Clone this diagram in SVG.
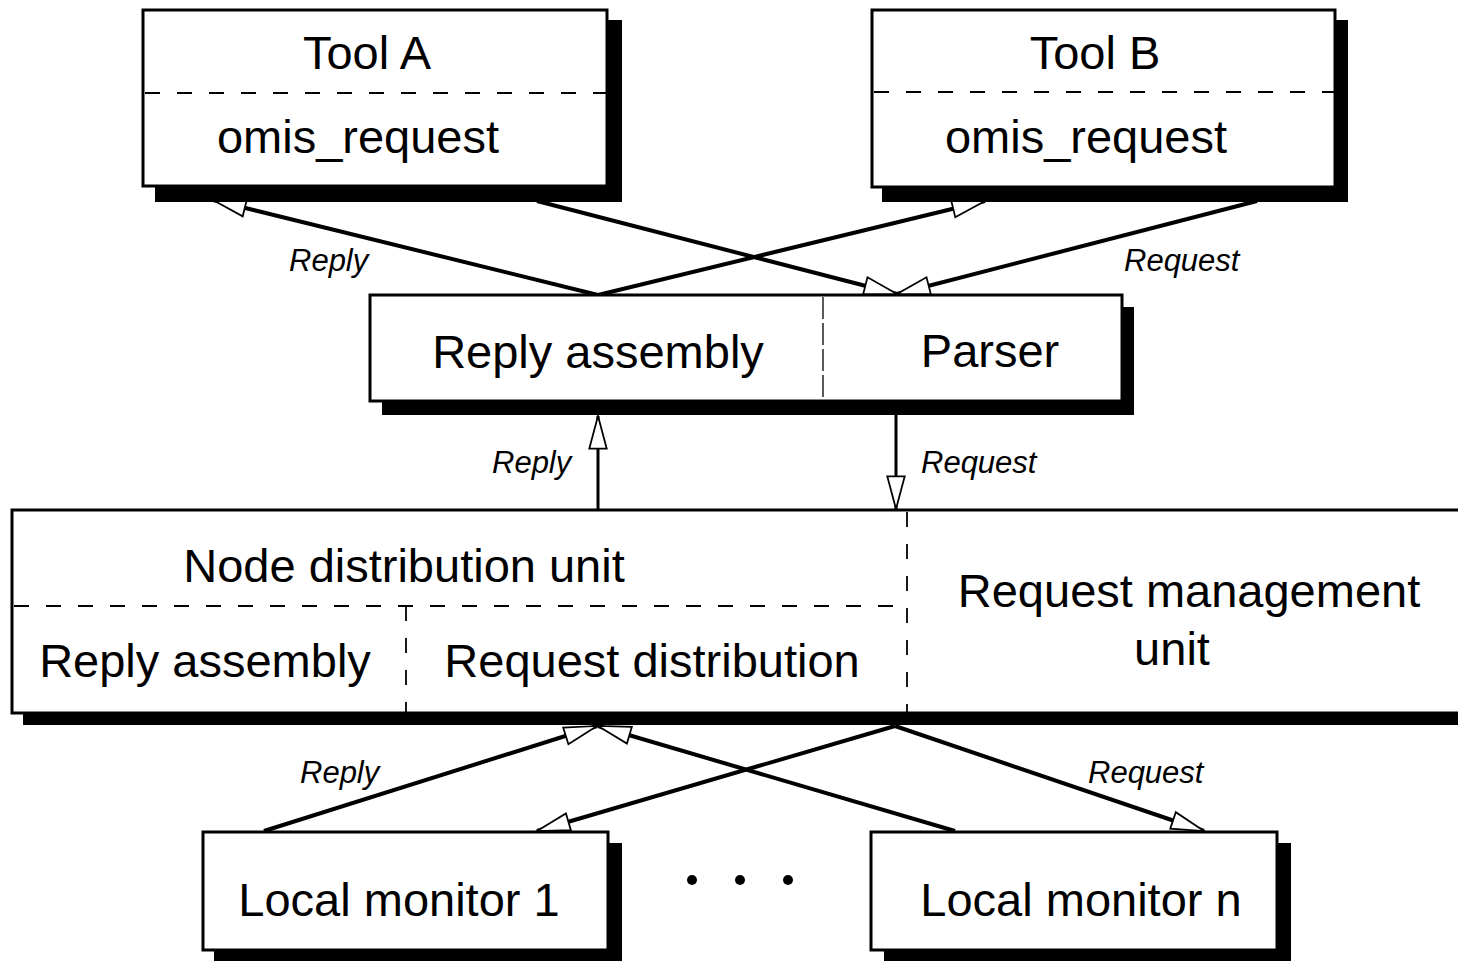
<svg xmlns="http://www.w3.org/2000/svg" width="1458" height="961" viewBox="0 0 1458 961">
  <style>
    .box { fill: #fff; stroke: #000; stroke-width: 3; }
    .shadow { fill: #000; stroke: none; }
    .dash { stroke: #000; stroke-width: 1.8; stroke-dasharray: 15 17; fill: none; }
    .thin { stroke: #000; stroke-width: 1.3; stroke-dasharray: 22 4; fill: none; }
    .t { font-family: "Liberation Sans", Arial, Helvetica, sans-serif; font-size: 47px; fill: #000; text-anchor: middle; }
    .lbl { font-family: "Liberation Sans", Arial, Helvetica, sans-serif; font-size: 31px; font-style: italic; fill: #000; }
    .conn { stroke: #000; stroke-width: 4; fill: none; marker-end: url(#open); }
    .vconn { stroke: #000; stroke-width: 3; fill: none; marker-end: url(#open); }
  </style>
  <defs>
    <marker id="open" markerUnits="userSpaceOnUse" markerWidth="40" markerHeight="24" viewBox="-32 -11 34 22" refX="0" refY="0" orient="auto">
      <path d="M0,0 L-30,-8 L-30,8 Z" fill="#fff" stroke="#000" stroke-width="1.6" stroke-linejoin="miter"/>
    </marker>
  </defs>

  <rect width="1458" height="961" fill="#fff"/>

  <!-- connectors -->
  <g id="connectors">
    <line class="conn" x1="598" y1="295" x2="213" y2="200"/>
    <line class="conn" x1="598" y1="295" x2="985" y2="201"/>
    <line class="conn" x1="537" y1="201" x2="897" y2="294"/>
    <line class="conn" x1="1257" y1="201" x2="897" y2="294"/>
    <line class="vconn" x1="598" y1="510" x2="598" y2="416"/>
    <line class="vconn" x1="896" y1="415" x2="896" y2="509"/>
    <line class="conn" x1="264" y1="831" x2="597" y2="726"/>
    <line class="conn" x1="955" y1="831" x2="598" y2="726"/>
    <line class="conn" x1="895" y1="726" x2="537" y2="831"/>
    <line class="conn" x1="895" y1="726" x2="1204" y2="831"/>
    <text class="lbl" x="289" y="271">Reply</text>
    <text class="lbl" x="1124" y="271">Request</text>
    <text class="lbl" x="492" y="473">Reply</text>
    <text class="lbl" x="921" y="473">Request</text>
    <text class="lbl" x="300" y="783">Reply</text>
    <text class="lbl" x="1088" y="783">Request</text>
  </g>

  <g id="tool-a">
    <rect class="shadow" x="155" y="20" width="467" height="182"/>
    <rect class="box" x="143" y="10" width="464" height="176"/>
    <line class="dash" x1="145" y1="93" x2="606" y2="93"/>
    <text class="t" x="367" y="69">Tool A</text>
    <text class="t" x="358" y="153">omis_request</text>
  </g>

  <g id="tool-b">
    <rect class="shadow" x="882" y="20" width="466" height="182"/>
    <rect class="box" x="872" y="10" width="463" height="177"/>
    <line class="dash" x1="874" y1="92" x2="1334" y2="92"/>
    <text class="t" x="1095" y="69">Tool B</text>
    <text class="t" x="1086" y="153">omis_request</text>
  </g>

  <g id="front-end">
    <rect class="shadow" x="382" y="307" width="752" height="108"/>
    <rect class="box" x="370" y="295" width="752" height="106"/>
    <line class="thin" x1="823" y1="297" x2="823" y2="400"/>
    <text class="t" x="598" y="368">Reply assembly</text>
    <text class="t" x="990" y="367">Parser</text>
  </g>

  <g id="distribution">
    <rect class="shadow" x="23" y="522" width="1460" height="203"/>
    <rect class="box" x="12" y="510" width="1460" height="203"/>
    <line class="dash" x1="14" y1="606" x2="906" y2="606"/>
    <line class="dash" x1="406" y1="606" x2="406" y2="712"/>
    <line class="dash" x1="907" y1="512" x2="907" y2="712"/>
    <text class="t" x="404" y="582">Node distribution unit</text>
    <text class="t" x="205" y="677">Reply assembly</text>
    <text class="t" x="652" y="677">Request distribution</text>
    <text class="t" x="1189" y="607">Request management</text>
    <text class="t" x="1172" y="665">unit</text>
  </g>

  <g id="monitor-1">
    <rect class="shadow" x="214" y="843" width="408" height="125"/>
    <rect class="box" x="203" y="832" width="405" height="118"/>
    <text class="t" x="399" y="916">Local monitor 1</text>
  </g>

  <g id="ellipsis">
    <circle cx="692" cy="880" r="5"/>
    <circle cx="740" cy="880" r="5"/>
    <circle cx="788" cy="880" r="5"/>
  </g>

  <g id="monitor-n">
    <rect class="shadow" x="884" y="843" width="407" height="125"/>
    <rect class="box" x="871" y="832" width="406" height="118"/>
    <text class="t" x="1081" y="916">Local monitor n</text>
  </g>
</svg>
